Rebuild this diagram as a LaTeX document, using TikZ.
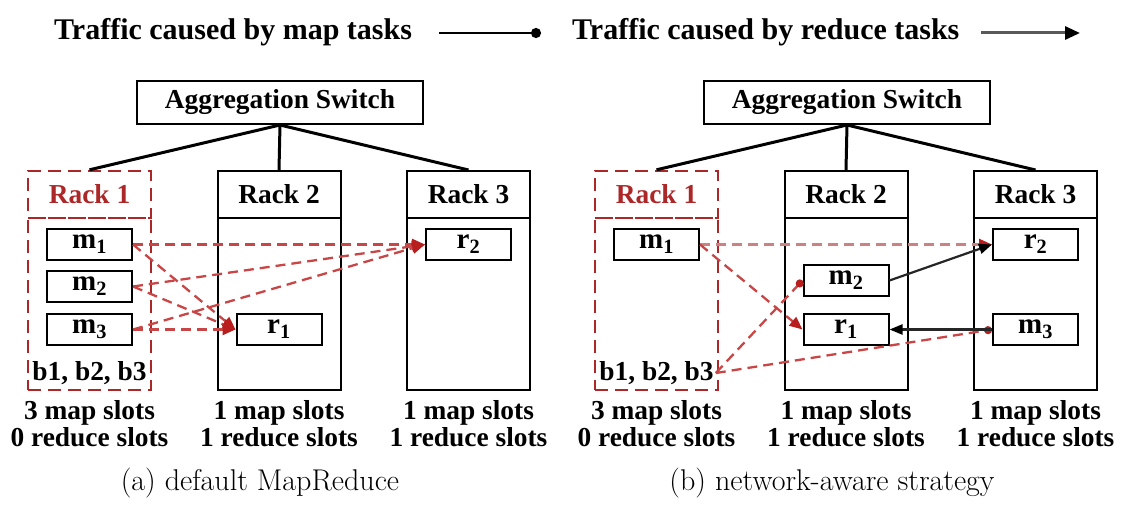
\documentclass[tikz,border=0pt]{standalone}
\usepackage{fontspec}
\newfontfamily\tnr{Liberation Serif}
\usetikzlibrary{arrows.meta}
\definecolor{rackred}{RGB}{172,40,40}
\definecolor{linered}{RGB}{200,70,70}
\definecolor{paleline}{RGB}{205,130,130}
\definecolor{tipred}{RGB}{185,30,30}
\begin{document}
\begin{tikzpicture}[x=1pt,y=-1pt,
  bf/.style={font=\tnr\bfseries\fontsize{27.4}{30}\selectfont},
  legendtext/.style={font=\tnr\bfseries\fontsize{30}{32}\selectfont,anchor=base west,inner sep=0pt},
  captiontext/.style={font=\fontsize{30}{32}\selectfont,anchor=base,inner sep=0pt},
  slottext/.style={bf,anchor=base,inner sep=0pt},
  switchbox/.style={draw,line width=2pt,minimum width=286pt,minimum height=43pt,inner sep=0pt,bf},
  rackhead/.style={draw,line width=2pt,minimum width=123pt,minimum height=47pt,inner sep=0pt,bf},
  rackbody/.style={draw,line width=2pt,minimum width=123pt,minimum height=172pt,inner sep=0pt},
  rackonehead/.style={rackhead,draw=rackred,text=rackred,dash pattern=on 13pt off 7pt,line width=2.4pt},
  rackonebody/.style={rackbody,draw=rackred,dash pattern=on 13pt off 7pt,line width=2.4pt},
  task/.style={draw,line width=2pt,minimum width=85pt,minimum height=31pt,inner sep=0pt,
    font=\tnr\bfseries\fontsize{29}{30}\selectfont},
  blocks/.style={bf,inner sep=2pt},
  uplink/.style={line width=3pt},
  redtraffic/.style={draw=linered,line width=2.3pt,dash pattern=on 10pt off 6pt},
  redreduce/.style={redtraffic,-{Triangle[length=13pt,width=11pt,color=tipred]}},
  palereduce/.style={redtraffic,draw=paleline,-{Triangle[length=13pt,width=11pt,color=tipred]}},
  redmap/.style={redtraffic,-{Circle[length=8pt,color=tipred]}},
  blackreduce/.style={line width=2.2pt,draw=black!85,-{Triangle[length=13pt,width=10pt,color=black]}},
]
\useasboundingbox (0,0) rectangle (1127,510);

% ---------- legend ----------
\node[legendtext] (lgmap) at (54,40) {Traffic caused by map tasks};
\coordinate (lgmapA) at (439,33);
\coordinate (lgmapB) at (541,33);
\draw[line width=2.6pt,-{Circle[length=10pt,color=black]}] (lgmapA) -- (lgmapB);
\node[legendtext] (lgred) at (572,40) {Traffic caused by reduce tasks};
\coordinate (lgredA) at (981,33);
\coordinate (lgredB) at (1080,33);
\draw[line width=3pt,draw=black!65,-{Triangle[length=15pt,width=13pt,color=black]}] (lgredA) -- (lgredB);

% ---------- panel (a) ----------
\node[switchbox] (swA) at (280,102.5) {Aggregation Switch};
\node[rackonehead] (rA1h) at (89.5,194.5) {Rack 1};
\node[rackonebody] (rA1b) at (89.5,304) {};
\node[rackhead] (rA2h) at (279,194.5) {Rack 2};
\node[rackbody] (rA2b) at (279,304) {};
\node[rackhead] (rA3h) at (468.5,194.5) {Rack 3};
\node[rackbody] (rA3b) at (468.5,304) {};
\draw[uplink] (swA.south) -- (rA1h.north);
\draw[uplink] (swA.south) -- (rA2h.north);
\draw[uplink] (swA.south) -- (rA3h.north);

\node[task] (mA1) at (89.5,244.5) {m\textsubscript{1}};
\node[task] (mA2) at (89.5,286.5) {m\textsubscript{2}};
\node[task] (mA3) at (89.5,329.5) {m\textsubscript{3}};
\node[task] (rA1) at (279,329.5) {r\textsubscript{1}};
\node[task] (rA2) at (468.5,244.5) {r\textsubscript{2}};
\node[blocks] (bA) at (89.5,373) {b1, b2, b3};

\draw[redreduce] (mA1.east) -- (rA2.west);
\draw[redreduce] (mA1.east) -- (rA1.west);
\draw[redreduce] (mA2.east) -- (rA1.west);
\draw[redreduce] (mA2.east) -- (rA2.west);
\draw[redreduce] (mA3.east) -- (rA1.west);
\draw[redreduce] (mA3.east) -- (rA2.west);

\node[slottext] (sA1a) at (89.5,419) {3 map slots};
\node[slottext] (sA1b) at (89.5,446) {0 reduce slots};
\node[slottext] (sA2a) at (279,419) {1 map slots};
\node[slottext] (sA2b) at (279,446) {1 reduce slots};
\node[slottext] (sA3a) at (468.5,419) {1 map slots};
\node[slottext] (sA3b) at (468.5,446) {1 reduce slots};
\node[captiontext] (capA) at (260,490) {(a) default MapReduce};

% ---------- panel (b) ----------
\node[switchbox] (swB) at (847,102.5) {Aggregation Switch};
\node[rackonehead] (rB1h) at (656.5,194.5) {Rack 1};
\node[rackonebody] (rB1b) at (656.5,304) {};
\node[rackhead] (rB2h) at (846,194.5) {Rack 2};
\node[rackbody] (rB2b) at (846,304) {};
\node[rackhead] (rB3h) at (1035.5,194.5) {Rack 3};
\node[rackbody] (rB3b) at (1035.5,304) {};
\draw[uplink] (swB.south) -- (rB1h.north);
\draw[uplink] (swB.south) -- (rB2h.north);
\draw[uplink] (swB.south) -- (rB3h.north);

\node[task] (mB1) at (656.5,244.5) {m\textsubscript{1}};
\node[task] (mB2) at (846,280.5) {m\textsubscript{2}};
\node[task] (rB1) at (846,329.5) {r\textsubscript{1}};
\node[task] (rB2) at (1035.5,244.5) {r\textsubscript{2}};
\node[task] (mB3) at (1035.5,329.5) {m\textsubscript{3}};
\node[blocks] (bB) at (656.5,373) {b1, b2, b3};

\draw[palereduce] (mB1.east) -- (rB2.west);
\draw[redreduce] (mB1.east) -- (rB1.west);
\draw[redmap] (bB.east) -- (mB2.west);
\draw[redmap] (bB.east) -- (mB3.west);
\draw[blackreduce] (mB2.east) -- (rB2.west);
\draw[blackreduce] (mB3.west) -- (rB1.east);

\node[slottext] (sB1a) at (656.5,419) {3 map slots};
\node[slottext] (sB1b) at (656.5,446) {0 reduce slots};
\node[slottext] (sB2a) at (846,419) {1 map slots};
\node[slottext] (sB2b) at (846,446) {1 reduce slots};
\node[slottext] (sB3a) at (1035.5,419) {1 map slots};
\node[slottext] (sB3b) at (1035.5,446) {1 reduce slots};
\node[captiontext] (capB) at (832,490) {(b) network-aware strategy};
\end{tikzpicture}
\end{document}
